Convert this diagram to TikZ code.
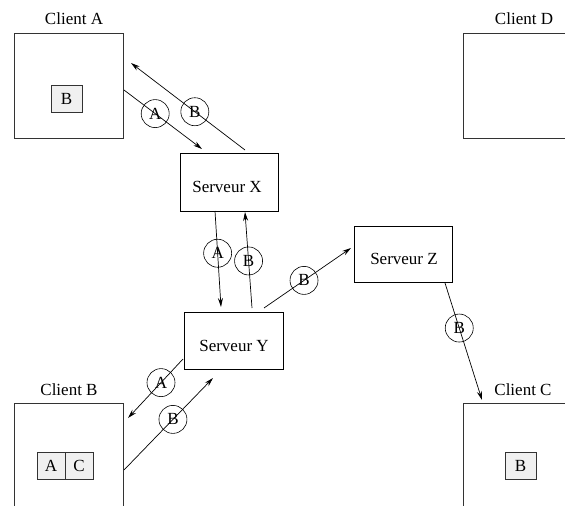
\documentclass[tikz,border=0pt]{standalone}
\usepackage{fontspec}
\setmainfont{Liberation Serif}
\usetikzlibrary{arrows.meta}
\begin{document}
\begin{tikzpicture}[x=1pt,y=-1pt,
  txt/.style={font=\fontsize{17}{20}\selectfont, inner sep=0pt},
  client/.style={draw=black!80, line width=0.8pt, minimum width=109pt, minimum height=105pt, inner sep=0pt},
  serveur/.style={draw=black, line width=0.8pt, inner sep=0pt},
  obj/.style={draw=black!80, line width=0.7pt, fill=black!6, minimum height=27pt, inner sep=0pt,
              font=\fontsize{17}{20}\selectfont},
  tag/.style={draw=black, circle, line width=0.6pt, minimum size=28pt, inner sep=0pt,
              font=\fontsize{17}{20}\selectfont},
  msg/.style={line width=0.7pt, -{Stealth[length=9pt,width=5pt,inset=3pt]}}]
\clip (0,0) rectangle (565,506);

% clients
\node[client] (cA) at (68.5,85.5) {};
\node[client] (cD) at (517.5,85.5) {};
\node[client] (cB) at (68.5,455.5) {};
\node[client] (cC) at (517.5,455.5) {};
\node[txt] (lA) at (74,19) {Client A};
\node[txt] (lD) at (524,19) {Client D};
\node[txt] (lB) at (69,390) {Client B};
\node[txt] (lC) at (523,390) {Client C};

% objects held by the clients
\node[obj, minimum width=31pt] (oAB) at (66.5,98.5) {B};
\node[obj, minimum width=28pt] (oBA) at (51,465.5) {A};
\node[obj, minimum width=28pt] (oBC) at (79,465.5) {C};
\node[obj, minimum width=31pt] (oCB) at (520.5,465.5) {B};

% servers
\node[serveur, minimum width=98pt, minimum height=58pt] (sX) at (229,182) {};
\node[serveur, minimum width=99pt, minimum height=57pt] (sY) at (233.5,340.5) {};
\node[serveur, minimum width=98pt, minimum height=56pt] (sZ) at (403,254) {};
\node[txt] (tX) at (227,187) {Serveur X};
\node[txt] (tY) at (234,346) {Serveur Y};
\node[txt] (tZ) at (404,259) {Serveur Z};

% end points of the messages
\coordinate (a1) at (124,90);   \coordinate (a2) at (202,149);
\coordinate (b1) at (245,150);  \coordinate (b2) at (131,63);
\coordinate (c1) at (215,211);  \coordinate (c2) at (221,307);
\coordinate (d1) at (252,308);  \coordinate (d2) at (245,212);
\coordinate (e1) at (264,308);  \coordinate (e2) at (351,248);
\coordinate (f1) at (445,283);  \coordinate (f2) at (482,400);
\coordinate (g1) at (183,359);  \coordinate (g2) at (128,418);
\coordinate (h1) at (124,470);  \coordinate (h2) at (213,378);

% messages
\draw[msg] (a1) -- node[tag, pos=0.40] (mA1) {A} (a2);
\draw[msg] (b1) -- node[tag, pos=0.44] (mB1) {B} (b2);
\draw[msg] (c1) -- node[tag, pos=0.44] (mA2) {A} (c2);
\draw[msg] (d1) -- node[tag, pos=0.49] (mB2) {B} (d2);
\draw[msg] (e1) -- node[tag, pos=0.46] (mB3) {B} (e2);
\draw[msg] (f1) -- node[tag, pos=0.385] (mB4) {B} (f2);
\draw[msg] (g1) -- node[tag, pos=0.40] (mA3) {A} (g2);
\draw[msg] (h1) -- node[tag, pos=0.55] (mB5) {B} (h2);
\end{tikzpicture}
\end{document}
